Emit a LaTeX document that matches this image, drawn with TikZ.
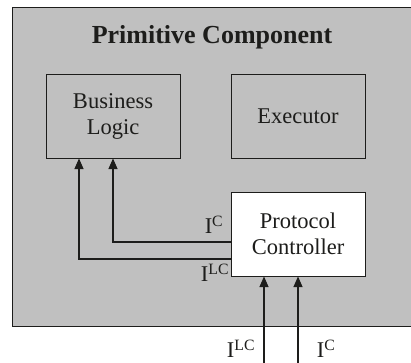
\documentclass[tikz,border=0pt]{standalone}
\usepackage{fontspec}
\setmainfont{Liberation Serif}
\usetikzlibrary{arrows.meta,positioning,calc}
\definecolor{ink}{HTML}{1D1D1B}
\definecolor{panel}{HTML}{C0C0C0}
\tikzset{
  base/.style={draw=ink, line width=1pt, align=center, minimum width=134pt, minimum height=84pt, font=\fontsize{22.5}{26}\selectfont, text=ink},
  part/.style={base, fill=panel},
  core/.style={base, fill=white},
  arr/.style={-{Triangle[length=10.5pt,width=9pt]}, line width=1.1pt, draw=ink},
  lab/.style={font=\fontsize{22.5}{26}\selectfont, text=ink, inner sep=0pt},
}

\begin{document}
\begin{tikzpicture}[x=1pt, y=-1pt]
    \useasboundingbox (0,0) rectangle (411,362);
    \draw[fill=panel, draw=ink, line width=0.9pt] (12,7) rectangle (420,326);
    \node[font=\bfseries\fontsize{26}{30}\selectfont, text=ink] (title) at (212,37) {Primitive Component};
    \node[part] (logic) at (113,116) {Business\\Logic};
    \node[part] (exec) at (298,116) {Executor};
    \node[core] (ctrl) at (298,234) {Protocol\\Controller};
    \coordinate (lcin) at (264,364);
    \coordinate (cin) at (298,364);
    % controller to business logic
    \draw[arr] ([yshift=-8pt]ctrl.west) -| (logic.south);
    \draw[arr] ([yshift=-25pt]ctrl.west) -| ([xshift=-34pt]logic.south);
    % inputs from outside
    \draw[arr] (lcin) -- (lcin |- ctrl.south);
    \draw[arr] (cin) -- (ctrl.south);
    \node[lab] (c1) at (214,225) {I\textsuperscript{C}};
    \node[lab] (lc1) at (215,273) {I\textsuperscript{LC}};
    \node[lab] (lc2) at (241,349) {I\textsuperscript{LC}};
    \node[lab] (c2) at (326,349) {I\textsuperscript{C}};
  \end{tikzpicture}
\end{document}
